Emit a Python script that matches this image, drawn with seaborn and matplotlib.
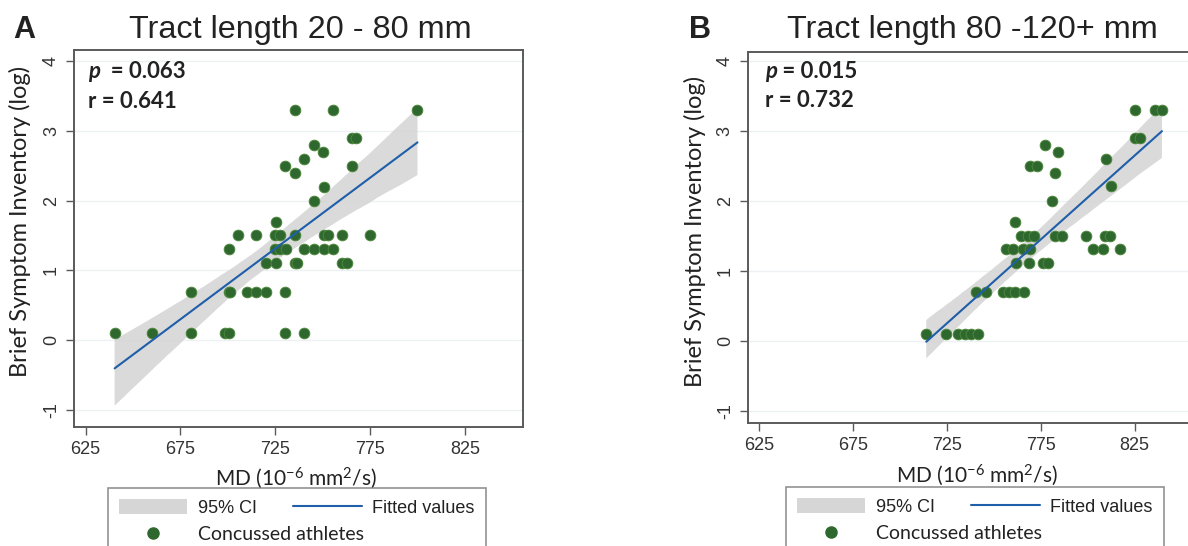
import numpy as np
import pandas as pd
import matplotlib
matplotlib.use('Agg')
import matplotlib.pyplot as plt
import seaborn as sns
from matplotlib.patches import Patch
from matplotlib.lines import Line2D

# Panel A: tract length 20 - 80 mm
md_a = [735.5, 755.4, 799.9, 765.3, 767.5, 745.2, 750.0, 740.3, 730.2, 765.3, 735.5, 750.4, 745.2, 725.5,
        705.3, 715.0, 725.0, 727.6, 735.5, 750.4, 752.6, 760.1, 775.0,
        700.4, 725.0, 727.6, 730.8, 740.3, 745.5, 750.4, 755.4,
        720.2, 725.5, 735.5, 736.3, 760.1, 762.7,
        680.3, 700.4, 701.3, 709.8, 715.0, 720.2, 730.2,
        640.3, 660.0, 680.3, 698.7, 700.4, 730.2, 740.3]
bsi_a = [3.30, 3.30, 3.30, 2.90, 2.90, 2.80, 2.70, 2.60, 2.50, 2.50, 2.39, 2.20, 2.00, 1.70,
         1.51, 1.51, 1.51, 1.51, 1.51, 1.51, 1.51, 1.51, 1.51,
         1.30, 1.30, 1.30, 1.30, 1.30, 1.30, 1.30, 1.30,
         1.10, 1.10, 1.10, 1.10, 1.10, 1.10,
         0.69, 0.69, 0.69, 0.69, 0.69, 0.69, 0.69,
         0.10, 0.10, 0.10, 0.10, 0.10, 0.10, 0.10]

# Panel B: tract length 80 - 120+ mm
md_b = [825.0, 836.0, 839.5, 825.4, 827.8, 777.0, 784.0, 809.8, 769.0, 772.9, 782.3, 812.4, 781.0,
        761.0,
        764.5, 768.1, 771.1, 782.8, 786.3, 799.1, 809.4, 811.9,
        756.2, 760.1, 765.4, 769.3, 802.7, 808.3, 817.2,
        761.9, 768.6, 776.1, 778.7,
        740.6, 745.6, 754.8, 758.3, 761.0, 766.3,
        714.0, 724.6, 730.9, 734.4, 738.0, 741.5]
bsi_b = [3.30, 3.30, 3.30, 2.90, 2.90, 2.80, 2.70, 2.60, 2.50, 2.50, 2.40, 2.21, 2.00,
         1.70,
         1.50, 1.50, 1.50, 1.50, 1.50, 1.50, 1.50, 1.50,
         1.31, 1.31, 1.31, 1.31, 1.31, 1.31, 1.31,
         1.11, 1.11, 1.11, 1.11,
         0.69, 0.69, 0.69, 0.69, 0.69, 0.69,
         0.10, 0.10, 0.10, 0.10, 0.10, 0.10]

titles = ['Tract length 20 - 80 mm', 'Tract length 80 -120+ mm']
panel_letters = ['A', 'B']
p_texts = ['  = 0.063', ' = 0.015']
r_texts = ['r = 0.641', 'r = 0.732']
x_ticks = [625, 675, 725, 775, 825]
y_ticks = [-1, 0, 1, 2, 3, 4]

GREEN = '#2f682f'
BLUE = '#1f5ea8'
CI_GRAY = '#d6d6d6'
SPINE = '#5a5a5a'

sns.set_style('white')
plt.rcParams['font.family'] = ['Liberation Sans', 'DejaVu Sans']
plt.rcParams['axes.unicode_minus'] = False
plt.rcParams['mathtext.fontset'] = 'custom'
plt.rcParams['mathtext.rm'] = 'Lato'
plt.rcParams['mathtext.it'] = 'Lato:italic'

W, H = 1188, 546
fig = plt.figure(figsize=(W / 100, H / 100), dpi=100)


def px_axes(left, top, right, bottom):
    return fig.add_axes([left / W, 1 - bottom / H, (right - left) / W, (bottom - top) / H])


ax_a = px_axes(74, 50, 523, 426.7)
ax_b = px_axes(747.7, 51.7, 1192, 423.3)

panels = [
    dict(ax=ax_a, x=md_a, y=bsi_a, ylim=(-1.243, 4.16), ylab=(-0.095, 0.546), xlab=(0.494, -0.102),
         txt=(0.031, 0.942, 0.863), title_x=129, letter_x=13, leg=(108, 488)),
    dict(ax=ax_b, x=md_b, y=bsi_b, ylim=(-1.18, 4.13), ylab=(-0.093, 0.515), xlab=(0.516, -0.105),
         txt=(0.039, 0.946, 0.868), title_x=787, letter_x=689, leg=(786, 487)),
]

for i, p in enumerate(panels):
    ax = p['ax']
    df = pd.DataFrame({'md': p['x'], 'bsi': p['y']})
    for yt in y_ticks:
        ax.axhline(yt, color='#edf1f4', lw=1.0, zorder=0)
    sns.regplot(data=df, x='md', y='bsi', ax=ax, ci=95, n_boot=2000, seed=1,
                scatter_kws=dict(s=60, color=GREEN, edgecolor='#4f8a3c', linewidths=0.6,
                                 alpha=1, zorder=3),
                line_kws=dict(color=BLUE, lw=1.5, zorder=4))
    # solid light gray confidence band
    for coll in ax.collections[1:]:
        coll.set_facecolor(CI_GRAY)
        coll.set_alpha(0.9)
        coll.set_edgecolor('none')
        coll.set_zorder(2)

    ax.set_xlim(618.9, 855.5)
    ax.set_ylim(*p['ylim'])
    ax.set_xticks(x_ticks)
    ax.set_yticks(y_ticks)
    ax.tick_params(axis='both', which='major', direction='out', length=6, width=1.0,
                   color=SPINE, labelsize=13, labelcolor='#333333', pad=4,
                   bottom=True, left=True)
    for lab in ax.get_yticklabels():
        lab.set_rotation(90)
        lab.set_va('center')
    for sp in ax.spines.values():
        sp.set_color(SPINE)
        sp.set_linewidth(1.4)

    ax.set_xlabel(r'MD (10$^{-6}$ mm$^{2}$/s)', fontsize=15, family='Lato', color='#222222')
    ax.set_ylabel('Brief Symptom Inventory (log)', fontsize=17, family='Lato', color='#222222')
    ax.xaxis.set_label_coords(*p['xlab'])
    ax.yaxis.set_label_coords(*p['ylab'])

    tx, ty_p, ty_r = p['txt']
    pt = ax.text(tx, ty_p, 'p', transform=ax.transAxes, fontsize=16, family='Lato',
                 fontweight='bold', fontstyle='italic', va='center', color='#222222')
    ax.annotate(p_texts[i], xy=(1, 0), xycoords=pt, va='bottom', fontsize=16, family='Lato',
                fontweight='bold', color='#222222')
    ax.text(tx, ty_r, r_texts[i], transform=ax.transAxes, fontsize=16, family='Lato',
            fontweight='bold', va='center', color='#222222')

    fig.text(p['letter_x'] / W, 1 - 38 / H, panel_letters[i], fontsize=22, fontweight='bold',
             color='#222222', va='baseline')
    fig.text(p['title_x'] / W, 1 - 38 / H, titles[i], fontsize=23.3, color='#222222',
             va='baseline')

    handles = [Patch(facecolor=CI_GRAY, edgecolor='none'),
               Line2D([], [], marker='o', ls='none', color=GREEN, markersize=8),
               Line2D([], [], color=BLUE, lw=1.5)]
    labels = ['95% CI', 'Concussed athletes', 'Fitted values']
    lx, ly = p['leg']
    leg = ax.legend(handles, labels, ncol=2, loc='upper left',
                    bbox_to_anchor=(lx / W, 1 - ly / H), bbox_transform=fig.transFigure,
                    borderaxespad=0, frameon=True, fancybox=False, fontsize=13,
                    handlelength=3.8, handleheight=0.9, handletextpad=0.6,
                    columnspacing=-3.95, borderpad=0.6, labelspacing=0.5)
    leg.get_frame().set_edgecolor('#777777')
    leg.get_frame().set_linewidth(1.2)
    for t in leg.get_texts():
        t.set_color('#222222')
    leg.get_texts()[1].set_family('Lato')
    leg.get_texts()[1].set_fontsize(14)

fig.savefig('out.png', dpi=100)
